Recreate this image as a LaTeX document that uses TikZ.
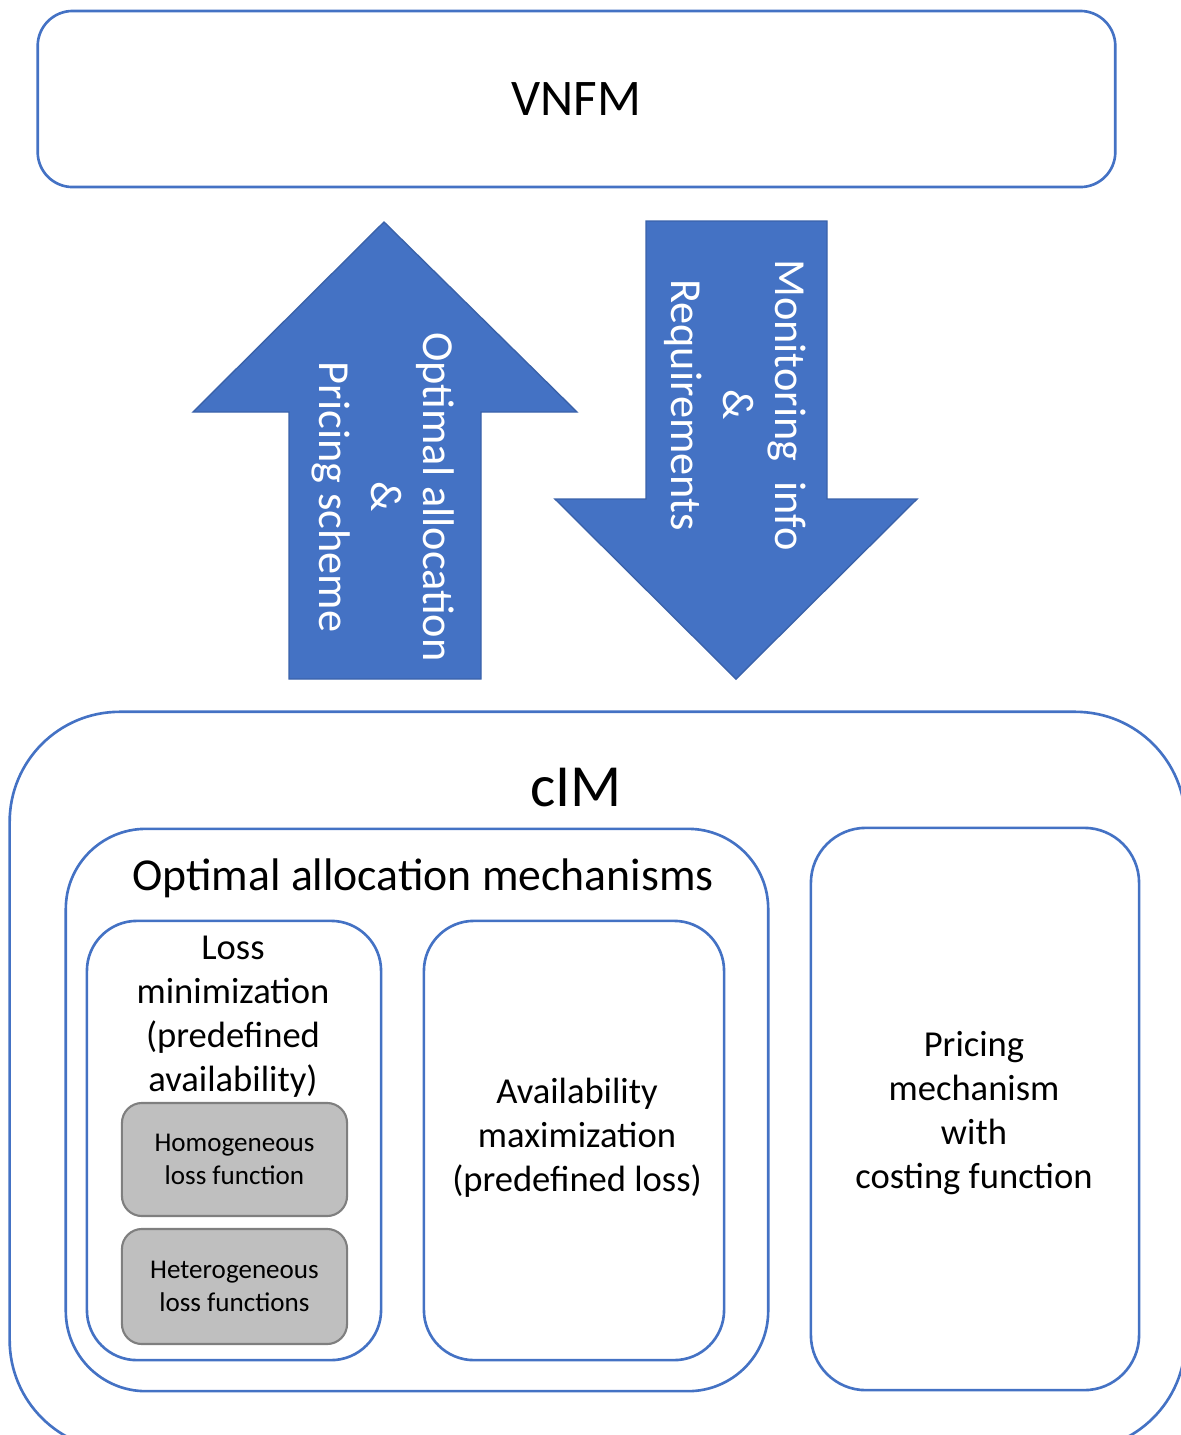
\documentclass[tikz,border=0pt]{standalone}
\usepackage{fontspec}
\setmainfont{Carlito}
\usetikzlibrary{positioning}
\definecolor{officeblue}{HTML}{4472C4}
\definecolor{darkblue}{HTML}{3A62AA}
\definecolor{boxgray}{HTML}{BFBFBF}
\definecolor{edgegray}{HTML}{7F7F7F}

\begin{document}
\begin{tikzpicture}[x=0.01cm,y=-0.01cm]

\tikzset{block/.style = {draw=officeblue, line width=0.75pt, inner sep=0pt}}
\tikzset{subblock/.style = {block, minimum width=2.94cm, minimum height=4.39cm, rounded corners=0.5cm}}
\tikzset{lossfn/.style = {draw=edgegray, fill=boxgray, line width=0.6pt, rounded corners=0.2cm, minimum width=2.25cm, align=center, font=\fontsize{7.7}{9.4}\selectfont}}
\tikzset{label/.style = {align=center, font=\fontsize{10.4}{12.5}\selectfont}}
\tikzset{arrowtext/.style = {align=center, text=white, rotate=-90, font=\fontsize{12.6}{14.8}\selectfont}}
\tikzset{bigarrow/.style = {fill=officeblue, draw=darkblue, line width=0.4pt}}

\useasboundingbox (0,0) rectangle (1181,1435);

% top box
\node[block, rounded corners=0.35cm, minimum width=10.77cm, minimum height=1.76cm,
  font=\fontsize{14.6}{17}\selectfont] (vnfm) at (576.5,99) {VNFM};

% arrows
\fill[bigarrow] (384,222) -- (577,412) -- (481,412) -- (481,679) -- (289,679) -- (289,412) -- (193,412) -- cycle;
\fill[bigarrow] (646,221) -- (827,221) -- (827,499) -- (917,499) -- (736,679) -- (555,499) -- (646,499) -- cycle;
\node[arrowtext] (uptext) at (383,497) {Optimal allocation\\\&\\Pricing scheme};
\node[arrowtext] (downtext) at (735,405) {Monitoring~~info\\\&\\Requirements};

% cIM box
\node[block, rounded corners=1.1cm, minimum width=11.75cm, minimum height=7.38cm] (cim) at (597.5,1081) {};
\node[font=\fontsize{17}{20}\selectfont] (cimtitle) at (576,788) {cIM};

\node[block, rounded corners=0.8cm, minimum width=7.02cm, minimum height=5.62cm] (oam) at (417,1110) {};
\node[font=\fontsize{13}{15}\selectfont] (oamtitle) at (423,878) {Optimal allocation mechanisms};

\node[subblock] (loss) at (234,1140.5) {};
\node[label] (losstext) at (233,1017) {Loss\\minimization\\(predefined\\availability)};
\node[lossfn, minimum height=1.13cm] (homo) at (234.5,1159.5) {Homogeneous\\loss function};
\node[lossfn, minimum height=1.15cm] (hetero) at (234.5,1286.5) {Heterogeneous\\loss functions};

\node[subblock, minimum width=3.00cm] (avail) at (574,1140.5) {};
\node[label] (availtext) at (577,1138) {Availability\\maximization\\(predefined loss)};

\node[block, rounded corners=0.55cm, minimum width=3.28cm, minimum height=5.62cm] (pricing) at (975,1109) {};
\node[label] (pricingtext) at (974,1113) {Pricing\\mechanism\\with\\costing function};
\end{tikzpicture}
\end{document}
